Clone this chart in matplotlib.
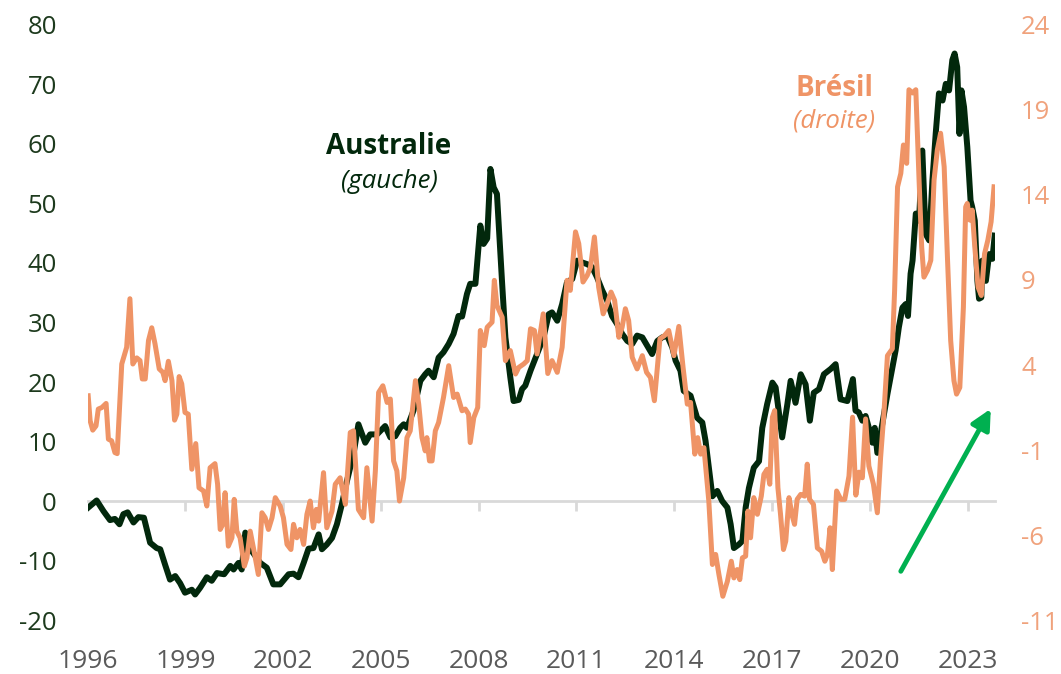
import numpy as np
import matplotlib.pyplot as plt

plt.rcParams['font.family'] = ['Open Sans', 'DejaVu Sans']
plt.rcParams['axes.unicode_minus'] = False

# Australie (axe gauche)
aus_year = [1996.02, 1996.28, 1996.49, 1996.69, 1996.84, 1996.98, 1997.10, 1997.23, 1997.41, 1997.56,
            1997.73, 1997.92, 1998.12, 1998.23, 1998.38, 1998.53, 1998.69, 1998.84, 1998.99, 1999.20,
            1999.30, 1999.45, 1999.66, 1999.81, 1999.97, 2000.19, 2000.38, 2000.48, 2000.63, 2000.73,
            2000.84, 2001.04, 2001.30, 2001.50, 2001.70, 2001.91, 2002.17, 2002.32, 2002.47, 2002.63,
            2002.78, 2002.93, 2003.09, 2003.19, 2003.34, 2003.50, 2003.65, 2003.80, 2003.96, 2004.16,
            2004.31, 2004.52, 2004.67, 2004.88, 2005.13, 2005.29, 2005.44, 2005.59, 2005.70, 2005.80,
            2006.00, 2006.21, 2006.36, 2006.46, 2006.62, 2006.77, 2006.92, 2007.08, 2007.23, 2007.38,
            2007.49, 2007.64, 2007.74, 2007.90, 2008.05, 2008.15, 2008.26, 2008.36, 2008.46, 2008.56,
            2008.72, 2008.82, 2008.97, 2009.07, 2009.23, 2009.33, 2009.43, 2009.59, 2009.79, 2009.99,
            2010.15, 2010.25, 2010.41, 2010.56, 2010.71, 2010.87, 2011.02, 2011.17, 2011.33, 2011.48,
            2011.63, 2011.79, 2011.94, 2012.09, 2012.25, 2012.40, 2012.56, 2012.71, 2012.86, 2013.02,
            2013.17, 2013.32, 2013.48, 2013.63, 2013.78, 2013.94, 2014.04, 2014.19, 2014.29, 2014.50,
            2014.70, 2014.86, 2014.96, 2015.06, 2015.17, 2015.32, 2015.47, 2015.63, 2015.73, 2015.83,
            2015.98, 2016.09, 2016.19, 2016.29, 2016.44, 2016.60, 2016.70, 2016.85, 2017.01, 2017.11,
            2017.31, 2017.47, 2017.57, 2017.72, 2017.88, 2018.03, 2018.16, 2018.28, 2018.44, 2018.59,
            2018.80, 2018.95, 2019.10, 2019.31, 2019.48, 2019.56, 2019.66, 2019.77, 2019.87, 2019.97,
            2020.08, 2020.15, 2020.23, 2020.38, 2020.54, 2020.69, 2020.79, 2020.89, 2021.00, 2021.10,
            2021.17, 2021.25, 2021.31, 2021.41, 2021.51, 2021.61, 2021.71, 2021.82, 2021.92, 2022.02,
            2022.12, 2022.23, 2022.33, 2022.43, 2022.53, 2022.60, 2022.68, 2022.75, 2022.81, 2022.89,
            2022.99, 2023.09, 2023.14, 2023.22, 2023.30, 2023.35, 2023.42, 2023.45, 2023.56, 2023.66,
            2023.76, 2023.83]
aus_val = [-1.1, 0.1, -1.7, -3.2, -3.0, -3.9, -2.2, -1.9, -3.6, -2.7,
           -2.8, -7.0, -7.9, -8.1, -10.7, -13.2, -12.6, -13.8, -15.4, -14.9,
           -15.7, -14.6, -12.8, -13.4, -12.1, -12.3, -10.9, -11.5, -10.4, -11.5,
           -5.3, -8.4, -10.4, -11.2, -14.0, -14.0, -12.3, -12.2, -12.8, -10.4,
           -8.0, -7.9, -5.6, -8.1, -7.3, -6.2, -3.9, -0.6, 3.4, 7.9,
           12.9, 9.8, 11.2, 11.2, 12.6, 10.7, 10.9, 12.3, 12.9, 12.3,
           15.2, 20.2, 21.3, 21.9, 20.8, 24.1, 25.0, 26.4, 28.1, 31.1,
           31.0, 34.8, 36.5, 36.5, 46.3, 43.2, 44.1, 55.8, 52.7, 51.6,
           36.5, 27.5, 20.8, 16.8, 17.0, 18.8, 19.4, 21.9, 24.7, 27.5,
           31.4, 31.7, 30.3, 33.1, 36.8, 37.3, 40.4, 40.1, 39.8, 39.3,
           37.6, 35.4, 33.7, 31.1, 29.7, 28.1, 26.9, 26.4, 27.8, 27.5,
           26.1, 24.7, 26.9, 27.5, 27.8, 25.8, 23.6, 21.9, 18.5, 17.7,
           14.0, 13.2, 10.1, 5.6, 0.8, 1.7, 0.0, -1.1, -3.9, -7.9,
           -7.3, -6.7, -1.1, 2.2, 5.6, 6.7, 12.3, 16.3, 19.9, 19.1,
           10.7, 16.3, 20.2, 16.5, 21.3, 19.6, 13.5, 18.2, 18.8, 21.3,
           22.2, 23.0, 17.1, 16.8, 20.5, 15.2, 14.9, 13.5, 14.3, 12.3,
           9.8, 12.3, 8.1, 12.9, 18.0, 22.4, 25.3, 29.2, 32.5, 33.1,
           31.1, 38.2, 40.4, 48.3, 47.1, 58.9, 44.9, 43.8, 53.9, 61.7,
           68.5, 67.3, 70.1, 69.0, 74.1, 75.2, 72.9, 61.7, 69.0, 66.2,
           59.5, 50.5, 49.4, 47.1, 37.0, 34.0, 34.2, 40.4, 37.0, 41.5,
           40.7, 44.6]

# Brésil (axe droit)
bra_year = [1996.02, 1996.08, 1996.16, 1996.26, 1996.33, 1996.44, 1996.57, 1996.64, 1996.74, 1996.84,
            1996.91, 1997.05, 1997.20, 1997.30, 1997.39, 1997.51, 1997.61, 1997.68, 1997.77, 1997.87,
            1997.97, 1998.07, 1998.20, 1998.31, 1998.38, 1998.48, 1998.59, 1998.67, 1998.74, 1998.81,
            1998.89, 1998.99, 1999.09, 1999.20, 1999.32, 1999.42, 1999.56, 1999.66, 1999.76, 1999.91,
            1999.99, 2000.07, 2000.15, 2000.22, 2000.32, 2000.43, 2000.50, 2000.58, 2000.68, 2000.81,
            2000.89, 2000.99, 2001.09, 2001.24, 2001.35, 2001.45, 2001.55, 2001.66, 2001.76, 2001.91,
            2002.01, 2002.12, 2002.24, 2002.32, 2002.42, 2002.52, 2002.63, 2002.73, 2002.83, 2002.93,
            2003.02, 2003.09, 2003.24, 2003.34, 2003.50, 2003.60, 2003.75, 2003.91, 2004.06, 2004.16,
            2004.31, 2004.47, 2004.57, 2004.73, 2004.83, 2004.93, 2005.06, 2005.19, 2005.29, 2005.39,
            2005.49, 2005.57, 2005.70, 2005.80, 2005.90, 2006.06, 2006.16, 2006.26, 2006.36, 2006.41,
            2006.49, 2006.57, 2006.67, 2006.77, 2006.92, 2007.08, 2007.23, 2007.34, 2007.49, 2007.59,
            2007.69, 2007.74, 2007.85, 2007.97, 2008.05, 2008.17, 2008.26, 2008.41, 2008.48, 2008.56,
            2008.72, 2008.82, 2008.97, 2009.13, 2009.23, 2009.38, 2009.49, 2009.59, 2009.71, 2009.79,
            2009.98, 2010.12, 2010.25, 2010.41, 2010.56, 2010.71, 2010.81, 2010.97, 2011.07, 2011.20,
            2011.33, 2011.43, 2011.55, 2011.68, 2011.82, 2011.94, 2012.06, 2012.17, 2012.30, 2012.40,
            2012.50, 2012.60, 2012.71, 2012.86, 2013.02, 2013.15, 2013.27, 2013.39, 2013.56, 2013.70,
            2013.83, 2013.99, 2014.14, 2014.27, 2014.40, 2014.50, 2014.63, 2014.72, 2014.81, 2014.91,
            2015.06, 2015.17, 2015.27, 2015.37, 2015.49, 2015.63, 2015.75, 2015.83, 2015.93, 2016.01,
            2016.09, 2016.19, 2016.26, 2016.34, 2016.44, 2016.55, 2016.67, 2016.75, 2016.85, 2016.93,
            2017.01, 2017.08, 2017.18, 2017.26, 2017.35, 2017.42, 2017.52, 2017.62, 2017.69, 2017.77,
            2017.88, 2018.00, 2018.08, 2018.15, 2018.27, 2018.39, 2018.52, 2018.62, 2018.70, 2018.78,
            2018.85, 2018.98, 2019.11, 2019.23, 2019.36, 2019.47, 2019.57, 2019.67, 2019.77, 2019.87,
            2019.97, 2020.11, 2020.23, 2020.33, 2020.43, 2020.54, 2020.69, 2020.76, 2020.85, 2020.95,
            2021.03, 2021.13, 2021.20, 2021.31, 2021.41, 2021.51, 2021.59, 2021.66, 2021.77, 2021.87,
            2021.97, 2022.07, 2022.17, 2022.28, 2022.38, 2022.48, 2022.58, 2022.66, 2022.76, 2022.87,
            2022.94, 2022.99, 2023.07, 2023.14, 2023.22, 2023.32, 2023.42, 2023.52, 2023.62, 2023.72,
            2023.81]
bra_val = [2.19, 0.72, 0.17, 0.42, 1.41, 1.50, 1.74, -0.36, -0.46, -1.15,
           -1.21, 4.06, 5.04, 7.90, 4.06, 4.42, 4.26, 3.18, 3.18, 5.44,
           6.19, 5.25, 3.77, 3.57, 3.08, 4.22, 3.08, 0.76, 1.11, 3.32,
           2.89, 1.21, 1.11, -2.13, -0.62, -3.22, -3.41, -4.29, -2.04, -1.80,
           -3.01, -5.67, -5.37, -3.51, -6.65, -6.16, -3.90, -5.77, -6.16, -7.83,
           -7.34, -5.77, -6.76, -8.32, -4.69, -4.98, -5.67, -4.98, -3.80, -4.29,
           -4.98, -6.55, -6.85, -5.37, -6.16, -5.67, -6.55, -4.78, -4.00, -5.57,
           -4.49, -5.18, -2.33, -5.57, -4.59, -3.01, -2.63, -4.19, 0.03, 0.13,
           -4.50, -4.98, -2.04, -5.18, -2.23, 2.39, 2.78, 1.80, 2.00, -1.64,
           -2.23, -4.00, -2.63, -0.27, 0.13, 3.08, 1.70, -0.27, -1.05, -0.27,
           -1.64, -1.64, 0.13, 0.62, 2.09, 3.96, 2.09, 2.29, 1.31, 1.41,
           1.11, -0.56, 0.91, 1.50, 6.03, 5.14, 6.22, 6.52, 8.98, 7.50,
           6.81, 4.26, 4.85, 3.47, 3.86, 4.06, 4.26, 6.13, 6.03, 4.65,
           7.01, 3.50, 4.26, 3.57, 5.04, 8.98, 8.39, 11.83, 11.14, 8.88,
           9.27, 9.76, 11.53, 8.58, 7.01, 7.60, 8.29, 7.80, 5.63, 6.22,
           7.31, 6.62, 4.45, 3.77, 4.55, 3.57, 3.27, 1.90, 5.54, 5.73,
           6.03, 4.55, 6.27, 3.86, 1.70, 1.80, -1.24, -0.27, -1.24, -0.86,
           -4.00, -7.73, -7.14, -8.32, -9.60, -8.72, -7.54, -8.52, -8.03, -8.62,
           -7.34, -7.24, -4.59, -6.16, -3.80, -4.78, -3.71, -2.43, -2.13, -3.01,
           0.93, 1.32, -3.22, -4.78, -6.85, -6.36, -3.80, -4.88, -5.37, -3.90,
           -3.61, -3.71, -1.83, -3.90, -4.19, -6.76, -6.95, -7.54, -7.14, -5.57,
           -8.03, -3.41, -3.90, -3.90, -2.53, 0.93, -3.65, -2.30, -2.63, 0.83,
           -1.94, -3.01, -4.69, -1.44, 1.11, 4.55, 4.95, 8.39, 14.48, 15.27,
           16.94, 15.86, 20.19, 20.00, 20.19, 14.88, 10.94, 9.17, 9.57, 10.16,
           14.88, 16.65, 17.63, 15.66, 10.35, 5.44, 3.08, 2.29, 2.68, 7.40,
           13.30, 13.50, 12.52, 13.11, 10.94, 8.58, 8.09, 10.55, 11.34, 12.42,
           14.48]

year_ticks = [1996, 1999, 2002, 2005, 2008, 2011, 2014, 2017, 2020, 2023]
left_ticks = [-20, -10, 0, 10, 20, 30, 40, 50, 60, 70, 80]
right_ticks = [-11, -6, -1, 4, 9, 14, 19, 24]

green = '#02280c'
orange = '#ef9466'
grey_line = '#d9d9d9'

fig = plt.figure(figsize=(10.61, 6.74), dpi=100)
ax = fig.add_axes([0.0825, 0.080, 0.855, 0.883])
ax2 = ax.twinx()

ax.plot(aus_year, aus_val, color=green, lw=4.3, solid_joinstyle='round', zorder=3)
ax2.plot(bra_year, bra_val, color=orange, lw=3.6, solid_joinstyle='round', zorder=3)

ax.set_xlim(aus_year[0], aus_year[-1])
ax.set_ylim(-20, 80)
ax2.set_ylim(-11, 24)

# zero line with small ticks
sec = ax.secondary_xaxis(0.2)
sec.set_xticks(year_ticks[1:])
sec.tick_params(axis='x', length=7, width=2, color=grey_line, labelbottom=False)
sec.spines['bottom'].set_color(grey_line)
sec.spines['bottom'].set_linewidth(2)
sec.set_zorder(0)

for a in (ax, ax2):
    for s in a.spines.values():
        s.set_visible(False)

ax.set_xticks(year_ticks)
ax.set_yticks(left_ticks)
ax2.set_yticks(right_ticks)
ax.tick_params(axis='x', length=0, pad=21, labelsize=19, labelcolor='#5a5a5a')
ax.tick_params(axis='y', length=0, pad=22, labelsize=18.5, labelcolor='#1d3a1d')
ax2.tick_params(axis='y', length=0, pad=19, labelsize=18.5, labelcolor='#f0a27c')

# series labels
fig.text(389 / 1061, 1 - 146 / 674, 'Australie', color=green, fontsize=20,
         fontweight='bold', ha='center', va='center')
fig.text(389 / 1061, 1 - 181 / 674, '(gauche)', color=green, fontsize=18.5,
         style='italic', ha='center', va='center')
fig.text(834 / 1061, 1 - 88 / 674, 'Brésil', color=orange, fontsize=20,
         fontweight='bold', ha='center', va='center')
fig.text(834 / 1061, 1 - 121 / 674, '(droite)', color=orange, fontsize=18.5,
         style='italic', ha='center', va='center')

# green arrow
ax.annotate('', xy=(2023.71, 15.5), xytext=(2020.95, -11.8),
            arrowprops=dict(arrowstyle='-|>', color='#00b050', lw=3.5,
                            mutation_scale=30, shrinkA=0, shrinkB=0))

fig.savefig('out.png', dpi=100)
